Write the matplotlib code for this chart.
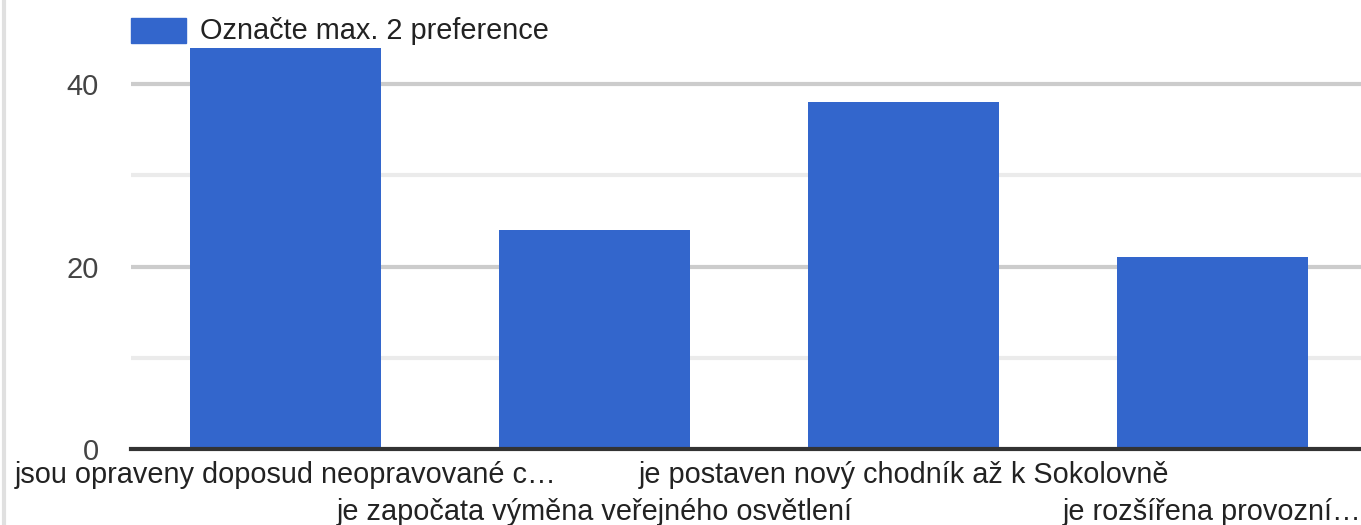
import matplotlib.pyplot as plt
from matplotlib.transforms import blended_transform_factory
from matplotlib.lines import Line2D

plt.rcParams['font.family'] = ['Liberation Sans', 'DejaVu Sans']

categories = [
    "jsou opraveny doposud neopravované c…",
    "je započata výměna veřejného osvětlení",
    "je postaven nový chodník až k Sokolovně",
    "je rozšířena provozní…",
]
values = [44, 24, 38, 21]
series_name = "Označte max. 2 preference"
major_ticks = [0, 20, 40]
minor_ticks = [10, 30]

W, H = 1361, 525
fig = plt.figure(figsize=(W / 100, H / 100), dpi=100)
# plot area in pixels: x from 131 to 1367, y zero at 449
ax = fig.add_axes([131 / W, 76 / H, (1367 - 131) / W, 449 / H])

ax.bar(range(len(values)), values, width=0.62, color='#3366cc', zorder=3)

ax.set_xlim(-0.5, len(values) - 0.5)
ax.set_ylim(0, 449 / 9.125)

for y in major_ticks[1:]:
    ax.axhline(y, color='#cccccc', lw=3, zorder=1)
for y in minor_ticks:
    ax.axhline(y, color='#ebebeb', lw=3, zorder=1)
ax.axhline(0, color='#333333', lw=3, zorder=4, clip_on=False)

for s in ax.spines.values():
    s.set_visible(False)

ax.set_yticks(major_ticks)
ax.set_yticklabels([str(t) for t in major_ticks], fontsize=21, color='#444444')
ax.tick_params(axis='y', length=0, pad=23)
ax.set_xticks([])

trans = blended_transform_factory(ax.transData, fig.transFigure)
for i, lab in enumerate(categories):
    ypix = 475 if i % 2 == 0 else 512
    ax.text(i, 1 - ypix / H, lab, transform=trans, ha='center', va='center',
            fontsize=20.8, color='#222222')

# legend
fig.patches.append(plt.Rectangle((131 / W, 1 - 43 / H), 55 / W, 25 / H,
                                 transform=fig.transFigure, color='#3366cc'))
fig.text(200 / W, 1 - 31 / H, series_name, ha='left', va='center',
         fontsize=20.8, color='#222222')

# left frame edge
fig.add_artist(Line2D([4 / W, 4 / W], [0, 1], transform=fig.transFigure,
                      color='#e0e0e0', lw=3))

fig.savefig('out.png', dpi=100)
